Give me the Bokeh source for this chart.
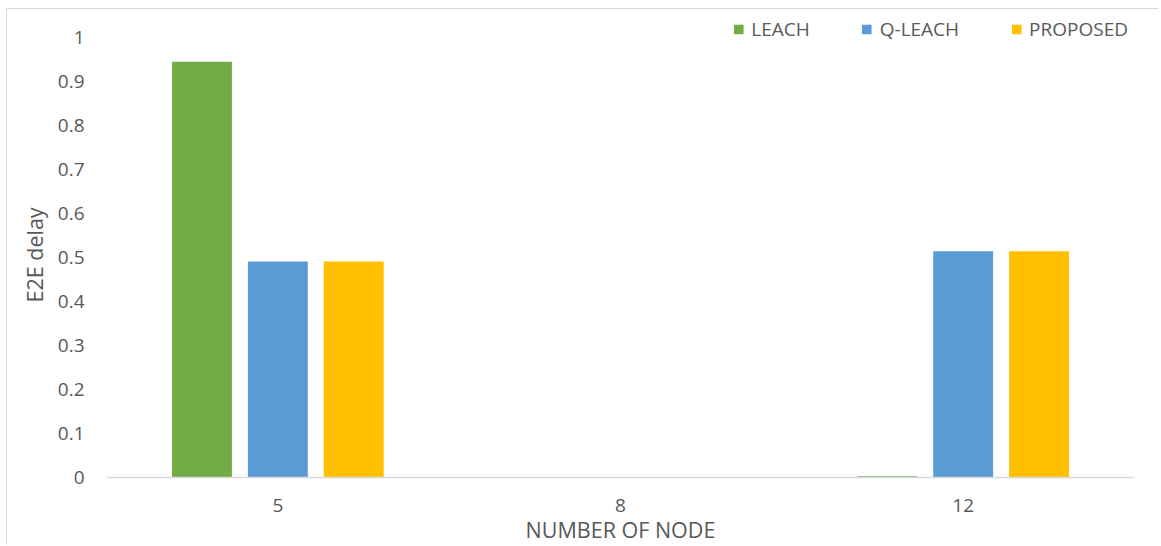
from bokeh.plotting import figure
from bokeh.models import ColumnDataSource, FactorRange, Range1d, Legend, LegendItem, FixedTicker, Title
from bokeh.transform import dodge
from bokeh.embed import file_html
from bokeh.resources import INLINE

categories = ["5", "8", "12"]
leach = [0.945, 0.0008, 0.003]
qleach = [0.491, 0.0, 0.514]
proposed = [0.491, 0.0, 0.514]
series_names = ["LEACH", "Q-LEACH", "PROPOSED"]
colors = ["#70AD47", "#5B9BD5", "#FFC000"]
y_title = "E2E delay"
x_title = "NUMBER OF NODE"

src = ColumnDataSource(dict(cat=categories, leach=leach, qleach=qleach, proposed=proposed))

FONT = "Open Sans"
TXT = "#595959"

p = figure(width=1152, height=537, x_range=FactorRange(*categories), y_range=Range1d(0, 467 / 440),
           output_backend="svg", toolbar_location=None,
           min_border_left=99, min_border_right=25, min_border_top=1, min_border_bottom=69)
p.styles = {"border-left": "1.5px solid #d9d9d9", "border-top": "1.5px solid #d9d9d9",
            "margin-left": "6px", "margin-top": "8px"}
p.outline_line_color = None
p.xgrid.grid_line_color = None
p.ygrid.grid_line_color = None

off = 76 / 343.3
bw = 60 / 343.3
renderers = []
for col, o, c in zip(["leach", "qleach", "proposed"], [-off, 0, off], colors):
    r = p.vbar(x=dodge("cat", o, range=p.x_range), top=col, width=bw, source=src,
               fill_color=c, line_color=None)
    renderers.append(r)

p.yaxis.ticker = FixedTicker(ticks=[i / 10 for i in range(11)])
p.yaxis.major_label_overrides = {0: "0", 1: "1"}
p.yaxis.axis_line_color = None
p.yaxis.major_tick_line_color = None
p.yaxis.minor_tick_line_color = None
p.yaxis.major_label_standoff = 16

p.xaxis.axis_line_color = "#d9d9d9"
p.xaxis.axis_line_width = 1.5
p.xaxis.major_tick_line_color = None
p.xaxis.minor_tick_line_color = None
p.xaxis.major_label_standoff = 15
p.xaxis.axis_label = x_title
p.xaxis.axis_label_standoff = 0
p.xaxis.axis_label_text_font_style = "normal"

for ax in [p.xaxis, p.yaxis]:
    ax.major_label_text_font = FONT
    ax.major_label_text_font_size = "19px"
    ax.major_label_text_color = TXT
    ax.axis_label_text_font = FONT
    ax.axis_label_text_color = TXT
p.xaxis.axis_label_text_font_size = "21.5px"

ytitle = Title(text=y_title, align="left", offset=175, standoff=11,
               text_font=FONT, text_font_size="21.5px", text_font_style="normal",
               text_color=TXT)
p.add_layout(ytitle, "left")

legend = Legend(items=[LegendItem(label=n, renderers=[r]) for n, r in zip(series_names, renderers)],
                orientation="horizontal", location="top_right",
                glyph_width=12, glyph_height=12, label_standoff=7, spacing=51,
                padding=0, margin=6, border_line_color=None, background_fill_alpha=0,
                label_text_font=FONT, label_text_font_size="19px", label_text_color=TXT)
p.add_layout(legend, "center")

open("out.html", "w").write(file_html(p, INLINE))
